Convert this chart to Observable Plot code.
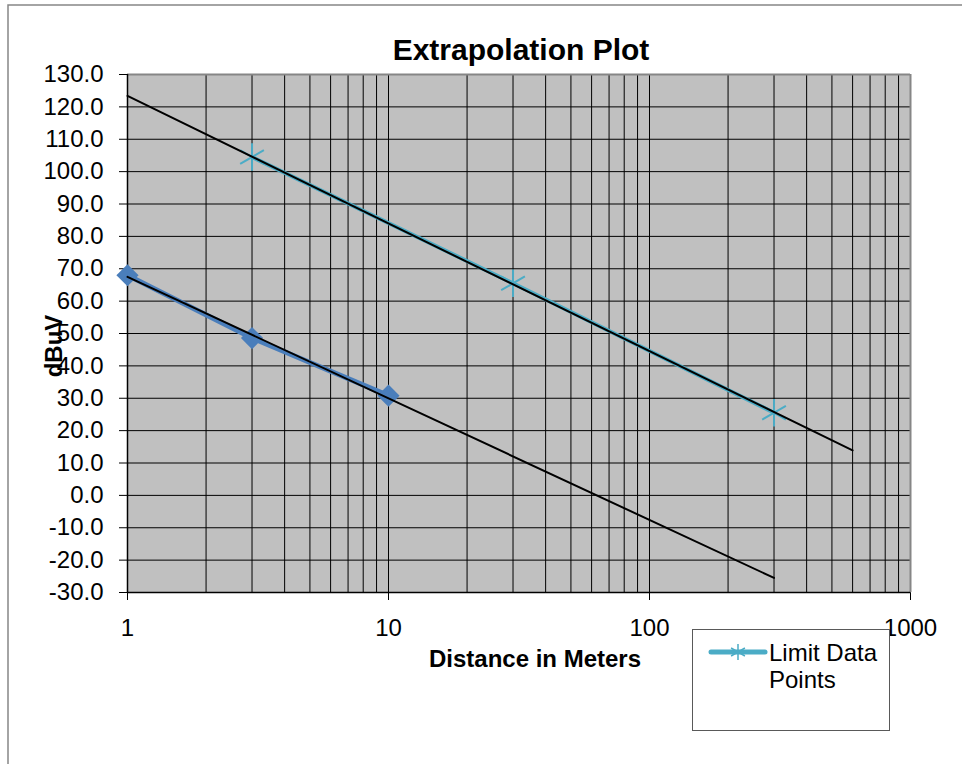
<!DOCTYPE html>
<html><head><meta charset="utf-8">
<script src="https://cdn.jsdelivr.net/npm/d3@7"></script>
<script src="https://cdn.jsdelivr.net/npm/@observablehq/plot@0.6"></script>
<style>body{margin:0;background:#fff;} svg{display:block}</style>
</head><body><div id="chart"></div>
<script>
// Data
const measuredDistance = [1, 3, 10];
const measuredLevel = [68.0, 48.6, 30.8];
const limitDistance = [3, 30, 300];
const limitLevel = [104.5, 65.5, 25.5];
const trendMeasuredDistance = [1, 300];
const trendMeasuredLevel = [67.5, -25.5];
const trendLimitDistance = [1, 600];
const trendLimitLevel = [123.4, 13.9];
const xTicks = [1, 10, 100, 1000];
const yTicks = [-30, -20, -10, 0, 10, 20, 30, 40, 50, 60, 70, 80, 90, 100, 110, 120, 130];
const xGrid = [1,2,3,4,5,6,7,8,9,10,20,30,40,50,60,70,80,90,100,200,300,400,500,600,700,800,900,1000];
const legendLabel = ["Limit Data", "Points"];

const zip = (xs, ys) => xs.map((x, i) => ({x, y: ys[i]}));
const measured = zip(measuredDistance, measuredLevel);
const limit = zip(limitDistance, limitLevel);
const trend1 = zip(trendMeasuredDistance, trendMeasuredLevel);
const trend2 = zip(trendLimitDistance, trendLimitLevel);

const FONT = "Liberation Sans, Arial, sans-serif";
const chart = Plot.plot({
  width: 962, height: 764,
  marginLeft: 127, marginRight: 52, marginTop: 74, marginBottom: 172,
  style: {fontFamily: FONT, fontSize: "24px", background: "#fff", color: "#000", overflow: "visible"},
  x: {type: "log", domain: [1, 1000], ticks: xTicks, tickFormat: d => String(d), tickSize: 8, tickPadding: 18, label: null},
  y: {domain: [-30, 130], ticks: yTicks, tickFormat: d => d.toFixed(1), tickSize: 8, tickPadding: 16, label: null},
  marks: [
    Plot.frame({fill: "#C0C0C0", stroke: null}),
    Plot.ruleX(xGrid, {stroke: "#000", strokeWidth: 1}),
    Plot.ruleY(yTicks, {stroke: "#000", strokeWidth: 1}),
    Plot.ruleY([130], {stroke: "#868686", strokeWidth: 2}),
    Plot.ruleX([1000], {stroke: "#868686", strokeWidth: 2}),
    Plot.ruleX([1], {stroke: "#000", strokeWidth: 1.5}),
    Plot.ruleY([-30], {stroke: "#000", strokeWidth: 1.5}),
    Plot.line(measured, {x: "x", y: "y", stroke: "#4A7EBB", strokeWidth: 5}),
    Plot.dot(measured, {x: "x", y: "y", symbol: "diamond2", r: 10, fill: "#4A7EBB", stroke: "none"}),
    Plot.line(limit, {x: "x", y: "y", stroke: "#4BACC6", strokeWidth: 4}),
    Plot.dot(limit, {x: "x", y: "y", symbol: "asterisk", r: 13, stroke: "#4BACC6", strokeWidth: 2}),
    Plot.line(trend1, {x: "x", y: "y", stroke: "#000", strokeWidth: 2}),
    Plot.line(trend2, {x: "x", y: "y", stroke: "#000", strokeWidth: 2})
  ]
});
document.getElementById("chart").appendChild(chart);

const svg = d3.select(chart);
// outer chart border
svg.append("path").attr("d", "M8,764V5H962").attr("fill", "none").attr("stroke", "#868686").attr("stroke-width", 1.5);
// title
svg.append("text").attr("x", 521).attr("y", 59.5).attr("text-anchor", "middle")
  .attr("font-family", FONT).attr("font-size", 30).attr("font-weight", "bold").text("Extrapolation Plot");
// x axis title
svg.append("text").attr("x", 535).attr("y", 667).attr("text-anchor", "middle")
  .attr("font-family", FONT).attr("font-size", 24).attr("font-weight", "bold").text("Distance in Meters");
// y axis title
svg.append("text").attr("transform", "translate(62,346) rotate(-90)").attr("text-anchor", "middle")
  .attr("font-family", FONT).attr("font-size", 24).attr("font-weight", "bold").text("dBuV");
// legend
const lg = svg.append("g");
lg.append("rect").attr("x", 692.5).attr("y", 629.5).attr("width", 197).attr("height", 101)
  .attr("fill", "#fff").attr("stroke", "#595959").attr("stroke-width", 1);
lg.append("line").attr("x1", 711).attr("x2", 765).attr("y1", 652).attr("y2", 652)
  .attr("stroke", "#4BACC6").attr("stroke-width", 5).attr("stroke-linecap", "round");
lg.append("path").attr("transform", "translate(738,652)").attr("d", d3.symbol(d3.symbolAsterisk, 180)())
  .attr("fill", "none").attr("stroke", "#4BACC6").attr("stroke-width", 1.5);
const lt = lg.append("text").attr("font-family", FONT).attr("font-size", 24).attr("text-anchor", "start");
lt.append("tspan").attr("x", 769).attr("y", 661).text(legendLabel[0]);
lt.append("tspan").attr("x", 769).attr("y", 688).text(legendLabel[1]);
</script>
</body></html>
